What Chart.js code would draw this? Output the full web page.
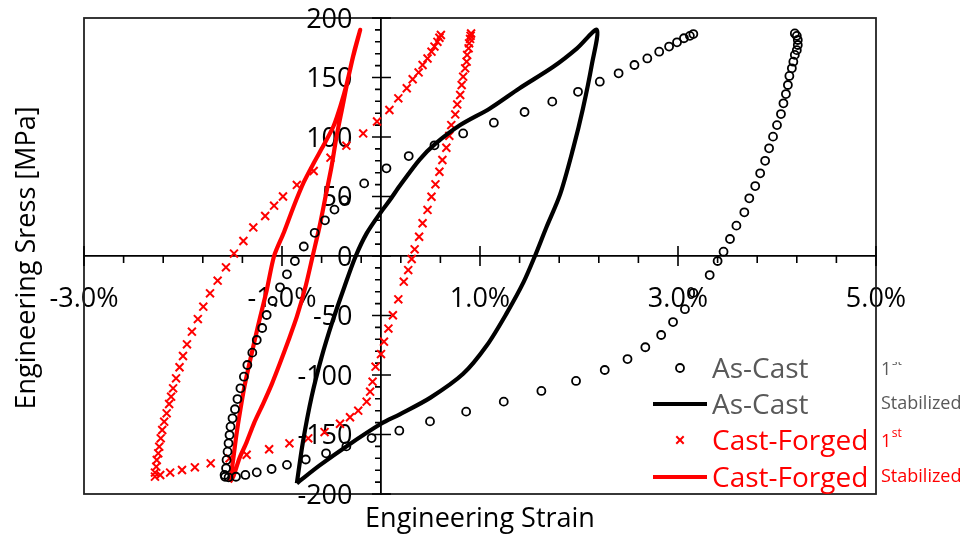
<!DOCTYPE html>
<html lang="en">
<head>
  <meta charset="UTF-8">
  <title>Engineering stress - strain loops</title>
  <script src="https://cdn.jsdelivr.net/npm/chart.js"></script>
  <style>
    html, body { margin: 0; padding: 0; background: #fff; }
  </style>
  <script>
    addEventListener("DOMContentLoaded", init);

    // [strain %, stress MPa]
    const asCastFirst = [
      [-1.58, -184], [-1.575, -185.5], [-1.565, -178.4], [-1.56, -171.4], [-1.55, -164.4], [-1.54, -157.4],
      [-1.53, -150.4], [-1.52, -143.4], [-1.50, -136.4], [-1.475, -128.8], [-1.45, -120.2], [-1.42, -111.2],
      [-1.385, -101.4], [-1.35, -91.6], [-1.30, -81.2], [-1.255, -70.6], [-1.20, -60.5], [-1.155, -49.6],
      [-1.095, -37.8], [-1.02, -26.3], [-0.95, -15.4], [-0.87, -4.2], [-0.78, 8], [-0.67, 19.5],
      [-0.566, 30], [-0.47, 39], [-0.37, 47], [-0.17, 61], [0.055, 73.7], [0.28, 84], [0.54, 93],
      [0.83, 103], [1.14, 112], [1.45, 121], [1.73, 129.7], [1.99, 138], [2.21, 146.5], [2.40, 153.5],
      [2.56, 160.5], [2.69, 166], [2.81, 171.7], [2.91, 176], [2.99, 179.6], [3.06, 183], [3.12, 185],
      [3.155, 186.5],
      [4.18, 187], [4.20, 185], [4.21, 181.5], [4.21, 177.3], [4.20, 173], [4.18, 169], [4.165, 163.3],
      [4.15, 157.7], [4.125, 151.3], [4.11, 143.7], [4.09, 136.1], [4.065, 128.3], [4.04, 119.3],
      [4.00, 110], [3.96, 100.3], [3.92, 90.5], [3.88, 80], [3.83, 69.5], [3.78, 58.8], [3.72, 48.5],
      [3.67, 36.7], [3.59, 25.5], [3.525, 14.3], [3.46, 3.6], [3.40, -4.2], [3.32, -16], [3.155, -31],
      [3.07, -44.7], [2.95, -55.5], [2.83, -66.4], [2.67, -76.7], [2.49, -86.6], [2.26, -95.8],
      [1.97, -105], [1.62, -113.4], [1.24, -122.4], [0.86, -130.8], [0.495, -139], [0.185, -146.8],
      [-0.095, -153], [-0.35, -160], [-0.555, -165.8], [-0.76, -171], [-0.95, -175.5], [-1.105, -179],
      [-1.255, -181.8], [-1.37, -184], [-1.465, -185.5], [-1.54, -186]
    ];

    const asCastStabilized = [
      [-0.85, -191], [-0.79, -157], [-0.70, -118], [-0.60, -85], [-0.49, -55], [-0.37, -26],
      [-0.26, -1], [-0.145, 19], [0, 37], [0.09, 47], [0.19, 59], [0.39, 81], [0.545, 94], [0.80, 110],
      [1.10, 124], [1.40, 141], [1.74, 159], [1.98, 174.5], [2.18, 190],
      [2.13, 161], [2.04, 124], [1.94, 90], [1.81, 52], [1.67, 24], [1.555, 0], [1.44, -22],
      [1.27, -48], [1.07, -75], [0.83, -99], [0.50, -119], [0.19, -133], [0, -141], [-0.35, -160],
      [-0.62, -176], [-0.85, -191]
    ];

    const castForgedFirst = [
      [0.91, 187], [0.905, 185], [0.90, 182.4], [0.89, 178.7], [0.885, 174.5], [0.87, 169], [0.865, 163.3],
      [0.85, 157.7], [0.83, 150.7], [0.815, 143.7], [0.80, 135.3], [0.77, 127.4], [0.75, 119], [0.71, 110],
      [0.69, 101], [0.66, 91], [0.62, 80.7], [0.59, 70.8], [0.55, 60.2], [0.51, 49.8], [0.47, 38.7],
      [0.42, 27.5], [0.385, 16.2], [0.34, 5.6], [0.31, -2.5], [0.275, -11.8], [0.23, -21.6], [0.175, -36.4],
      [0.12, -49.8], [0.075, -61], [0.03, -72], [0, -82.4], [-0.055, -93], [-0.085, -105.6], [-0.11, -114],
      [-0.145, -122.4], [-0.23, -130], [-0.313, -135.5], [-0.414, -141], [-0.57, -148], [-0.735, -153.2],
      [-0.925, -157.4], [-1.13, -162.4], [-1.357, -167], [-1.53, -170], [-1.72, -174.2], [-1.88, -177.6],
      [-2.01, -179.8], [-2.13, -182], [-2.23, -184], [-2.283, -185.4],
      [-2.283, -182], [-2.27, -177], [-2.265, -171.4], [-2.25, -165.8], [-2.24, -160.2], [-2.225, -153.2],
      [-2.21, -146.2], [-2.19, -139.2], [-2.165, -132.2], [-2.14, -124.4], [-2.12, -118.2], [-2.10, -111.2],
      [-2.07, -102.8], [-2.035, -93.5], [-2.00, -84], [-1.96, -74.2], [-1.91, -63.6], [-1.85, -53],
      [-1.795, -42.6], [-1.727, -31.4], [-1.65, -20.7], [-1.566, -9.5], [-1.485, 2], [-1.39, 12.6],
      [-1.29, 24], [-1.17, 33.6], [-1.08, 42.3], [-0.99, 50], [-0.85, 59.7], [-0.68, 71.4], [-0.51, 82.6],
      [-0.35, 92.7], [-0.18, 103], [-0.04, 113], [0.085, 122.7], [0.175, 132.5], [0.26, 141], [0.32, 148.5],
      [0.38, 154.3], [0.42, 160.5], [0.47, 166], [0.51, 171.7], [0.54, 176], [0.57, 180], [0.59, 183.4],
      [0.605, 185.7]
    ];

    const castForgedStabilized = [
      [-1.525, -190], [-1.49, -185], [-1.43, -170], [-1.36, -157], [-1.28, -140], [-1.19, -124],
      [-1.10, -107], [-1.02, -90], [-0.935, -71], [-0.85, -51], [-0.76, -25], [-0.69, 0], [-0.62, 25],
      [-0.56, 50], [-0.50, 75], [-0.45, 100], [-0.39, 125], [-0.33, 150], [-0.27, 172], [-0.21, 190],
      [-0.28, 168], [-0.345, 145], [-0.41, 126], [-0.48, 109], [-0.58, 93], [-0.68, 78], [-0.78, 62],
      [-0.885, 41], [-0.98, 20], [-1.08, 0], [-1.155, -29], [-1.24, -58], [-1.32, -87], [-1.38, -110],
      [-1.42, -129], [-1.46, -150], [-1.49, -169], [-1.525, -190]
    ];

    const xTickValues = [-3, -1, 1, 3, 5];
    const xMinorStep = 0.4;
    const yTickValues = [-200, -150, -100, -50, 0, 50, 100, 150, 200];
    const yMinorStep = 10;

    const seriesLabels = ["As-Cast", "As-Cast", "Cast-Forged", "Cast-Forged"];
    const seriesNotes = ["1st", "Stabilized", "1st", "Stabilized"];
    const xTitle = "Engineering Strain";
    const yTitle = "Engineering Sress [MPa]";

    const GREY = "#595959";
    const RED = "#ff0000";
    const FONT = '"Open Sans"';

    function toXY(pairs) {
      return pairs.map(p => ({ x: p[0], y: p[1] }));
    }

    // frame, tick marks and y labels, drawn under the data
    const axesDecor = {
      id: "axesDecor",
      beforeDatasetsDraw(chart) {
        const { ctx, chartArea: a, scales: { x, y } } = chart;
        const axisY = y.getPixelForValue(0);
        const axisX = x.getPixelForValue(0);
        ctx.save();
        ctx.strokeStyle = "#222";
        ctx.lineWidth = 1.8;
        ctx.strokeRect(a.left, a.top, a.right - a.left, a.bottom - a.top);

        ctx.strokeStyle = "#000";
        ctx.lineWidth = 1.6;
        ctx.beginPath();
        const xmin = xTickValues[0], xmax = xTickValues[xTickValues.length - 1];
        const nx = Math.round((xmax - xmin) / xMinorStep);
        for (let i = 0; i <= nx; i++) {
          const px = x.getPixelForValue(xmin + i * xMinorStep);
          if (i % 5 === 0) {
            ctx.moveTo(px, axisY - 10); ctx.lineTo(px, axisY + 10);
          } else {
            ctx.moveTo(px, axisY); ctx.lineTo(px, axisY + 7);
          }
        }
        const ymin = yTickValues[0], ymax = yTickValues[yTickValues.length - 1];
        const ny = Math.round((ymax - ymin) / yMinorStep);
        for (let i = 0; i <= ny; i++) {
          const val = ymin + i * yMinorStep;
          const py = y.getPixelForValue(val);
          if (val % 50 === 0) {
            ctx.moveTo(axisX - 9, py); ctx.lineTo(axisX + 10, py);
          } else {
            ctx.moveTo(axisX - 6, py); ctx.lineTo(axisX, py);
          }
        }
        ctx.stroke();

        ctx.fillStyle = "#000";
        ctx.font = "27px " + FONT;
        ctx.textAlign = "right";
        ctx.textBaseline = "alphabetic";
        for (const t of y.ticks) {
          ctx.fillText(String(t.value), axisX - 28.5, y.getPixelForValue(t.value) + 9.6);
        }
        ctx.restore();
      }
    };

    // axis titles, legend inside the frame and the notes right of it
    const legendAndTitles = {
      id: "legendAndTitles",
      afterDraw(chart) {
        const { ctx, chartArea: a } = chart;
        ctx.save();
        ctx.fillStyle = "#000";
        ctx.font = "27px " + FONT;
        ctx.textAlign = "center";
        ctx.textBaseline = "alphabetic";
        ctx.fillText(xTitle, (a.left + a.right) / 2, 527);

        ctx.save();
        ctx.translate(35, (a.top + a.bottom) / 2 + 2);
        ctx.rotate(-Math.PI / 2);
        ctx.font = "27px " + FONT;
        ctx.fillText(yTitle, 0, 0);
        ctx.restore();

        const rowY = [368, 404, 440, 477];
        const markX = a.right - 196;
        const textX = a.right - 164;
        chart.data.datasets.forEach((ds, i) => {
          const cy = rowY[i];
          ctx.strokeStyle = ds.borderColor;
          if (ds.showLine) {
            ctx.lineWidth = ds.borderWidth;
            ctx.beginPath();
            ctx.moveTo(markX - 27, cy);
            ctx.lineTo(markX + 27, cy);
            ctx.stroke();
          } else {
            ctx.lineWidth = ds.pointBorderWidth;
            ctx.beginPath();
            if (ds.pointStyle === "circle") {
              ctx.arc(markX, cy, ds.pointRadius, 0, Math.PI * 2);
            } else {
              const d = ds.pointRadius * 0.66;
              ctx.moveTo(markX - d, cy - d); ctx.lineTo(markX + d, cy + d);
              ctx.moveTo(markX - d, cy + d); ctx.lineTo(markX + d, cy - d);
            }
            ctx.stroke();
          }
          const col = ds.borderColor === "#000000" ? GREY : RED;
          ctx.fillStyle = col;
          ctx.font = "28px " + FONT;
          ctx.textAlign = "left";
          ctx.fillText(ds.label, textX, cy + 10);

          // notes outside the frame
          const nx = a.right + 5;
          const note = seriesNotes[i];
          if (note === "1st") {
            ctx.font = "18px " + FONT;
            ctx.fillText("1", nx, cy + 7);
            const w = ctx.measureText("1").width;
            ctx.save();
            if (i === 0) {
              // the grey superscript is cut off in the original
              ctx.beginPath();
              ctx.rect(nx + w, cy - 6, 30, 20);
              ctx.clip();
            }
            ctx.font = "12px " + FONT;
            ctx.fillText("st", nx + w + 0.5, cy - 3);
            ctx.restore();
          } else {
            ctx.font = "18px " + FONT;
            ctx.fillText(note, nx, cy + 5);
          }
        });
        ctx.restore();
      }
    };

    function init() {
      Chart.defaults.font.family = FONT;
      const canvas = document.getElementById("loopChart");

      new Chart(canvas, {
        type: "scatter",
        data: {
          datasets: [
            {
              label: seriesLabels[0],
              data: toXY(asCastFirst),
              showLine: false,
              pointStyle: "circle",
              pointRadius: 4,
              pointBorderWidth: 1.8,
              borderColor: "#000000",
              backgroundColor: "rgba(0,0,0,0)"
            },
            {
              label: seriesLabels[1],
              data: toXY(asCastStabilized),
              showLine: true,
              borderColor: "#000000",
              borderWidth: 4.2,
              pointRadius: 0,
              tension: 0.3
            },
            {
              label: seriesLabels[2],
              data: toXY(castForgedFirst),
              showLine: false,
              pointStyle: "crossRot",
              pointRadius: 5.6,
              pointBorderWidth: 2,
              borderColor: RED,
              backgroundColor: RED
            },
            {
              label: seriesLabels[3],
              data: toXY(castForgedStabilized),
              showLine: true,
              borderColor: RED,
              borderWidth: 4.2,
              pointRadius: 0,
              tension: 0.25
            }
          ]
        },
        options: {
          responsive: false,
          animation: false,
          events: [],
          layout: { padding: { left: 84, top: 18, right: 91, bottom: 42 } },
          plugins: {
            legend: { display: false },
            tooltip: { enabled: false }
          },
          scales: {
            x: {
              type: "linear",
              min: -3,
              max: 5,
              position: { y: 0 },
              grid: { display: false, drawTicks: false },
              border: { display: true, color: "#000", width: 1.8 },
              afterBuildTicks: s => { s.ticks = xTickValues.map(v => ({ value: v })); },
              ticks: {
                color: "#000",
                font: { family: FONT, size: 27 },
                padding: 27,
                maxRotation: 0,
                autoSkip: false,
                callback: v => v.toFixed(1) + "%"
              }
            },
            y: {
              type: "linear",
              min: -200,
              max: 200,
              position: { x: 0 },
              grid: { display: false, drawTicks: false },
              border: { display: true, color: "#000", width: 1.8 },
              afterBuildTicks: s => { s.ticks = yTickValues.map(v => ({ value: v })); },
              ticks: { display: false }
            }
          }
        },
        plugins: [axesDecor, legendAndTitles]
      });
    }
  </script>
</head>
<body>
  <canvas id="loopChart" width="967" height="536"></canvas>
</body>
</html>
